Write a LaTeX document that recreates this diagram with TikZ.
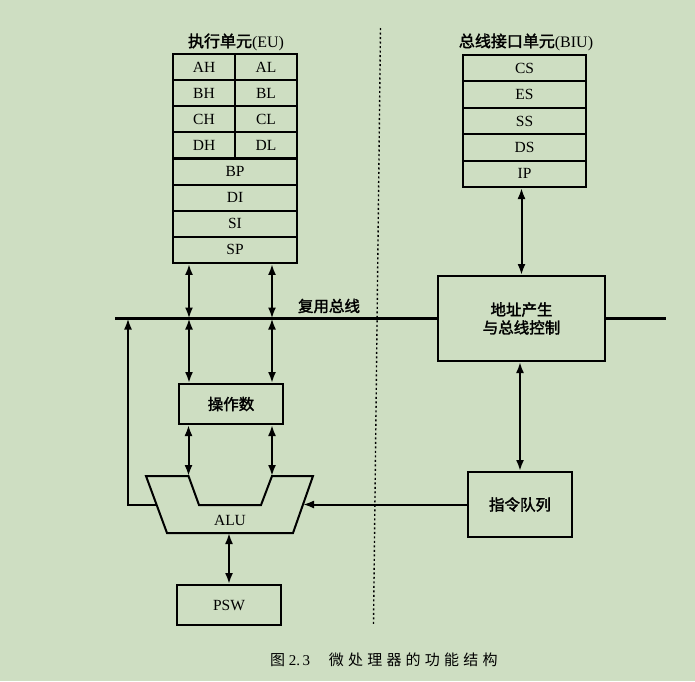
\documentclass[tikz,border=0pt]{standalone}
\usepackage{fontspec}
\setmainfont{Liberation Serif}
\newfontfamily\cjk[AutoFakeBold=2]{Noto Sans CJK SC}
\newfontfamily\cjkcap[LetterSpace=28]{Noto Sans CJK SC}
\usetikzlibrary{arrows.meta}
\definecolor{bg}{RGB}{206,222,194}
\begin{document}
\begin{tikzpicture}[x=1pt,y=-1pt,
  box/.style={draw, line width=2pt, inner sep=0pt},
  reg/.style={box, minimum height=26.1pt, font=\fontsize{15.5}{17}\selectfont},
  blk/.style={box, font=\fontsize{15.5}{18}\selectfont\cjk\bfseries, align=center},
  ttl/.style={font=\fontsize{16}{18}\selectfont, inner sep=0pt},
  dbl/.style={{Latex[length=11pt,width=8pt]}-{Latex[length=11pt,width=8pt]}, line width=2pt},
  one/.style={-{Latex[length=11pt,width=8pt]}, line width=2pt},
  bus/.style={line width=2.3pt},
  sep/.style={line width=1.4pt, dash pattern=on 2pt off 2.5pt}
]
\path[fill=bg] (0,0) rectangle (695,681);

% separator
\coordinate (sepT) at (380.5,28);
\coordinate (sepB) at (373.5,624);
\draw[sep] (sepT) -- (sepB);

% titles
\node[ttl] (eut) at (236,42) {{\cjk\bfseries 执行单元}(EU)};
\node[ttl] (biut) at (526,42) {{\cjk\bfseries 总线接口单元}(BIU)};

% EU registers
\node[reg, minimum width=62pt] (ah) at (204,67.1) {AH};
\node[reg, minimum width=62pt] (al) at (266,67.1) {AL};
\node[reg, minimum width=62pt] (bh) at (204,93.2) {BH};
\node[reg, minimum width=62pt] (bl) at (266,93.2) {BL};
\node[reg, minimum width=62pt] (ch) at (204,119.3) {CH};
\node[reg, minimum width=62pt] (cl) at (266,119.3) {CL};
\node[reg, minimum width=62pt] (dh) at (204,145.4) {DH};
\node[reg, minimum width=62pt] (dl) at (266,145.4) {DL};
\node[reg, minimum width=124pt] (bp) at (235,171.6) {BP};
\node[reg, minimum width=124pt] (di) at (235,197.7) {DI};
\node[reg, minimum width=124pt] (si) at (235,223.8) {SI};
\node[reg, minimum width=124pt] (sp) at (235,249.9) {SP};

% BIU registers
\node[reg, minimum width=123pt, minimum height=26.4pt] (cs) at (524.5,68.2) {CS};
\node[reg, minimum width=123pt, minimum height=26.4pt] (es) at (524.5,94.6) {ES};
\node[reg, minimum width=123pt, minimum height=26.4pt] (ss) at (524.5,121) {SS};
\node[reg, minimum width=123pt, minimum height=26.4pt] (ds) at (524.5,147.4) {DS};
\node[reg, minimum width=123pt, minimum height=26.4pt] (ip) at (524.5,173.8) {IP};

% blocks
\node[blk, minimum width=167pt, minimum height=85pt] (addr) at (521.5,318.5) {地址产生\\与总线控制};
\node[blk, minimum width=104pt, minimum height=65pt] (queue) at (520,504.5) {指令队列};
\node[blk, minimum width=104pt, minimum height=40pt] (ops) at (231,404) {操作数};
\node[reg, minimum width=104pt, minimum height=40pt] (psw) at (229,605) {PSW};

% ALU
\coordinate (aluA) at (146,476);
\coordinate (aluT1) at (188.5,476);
\coordinate (aluC) at (199,505);
\coordinate (aluD) at (261,505);
\coordinate (aluT2) at (272,476);
\coordinate (aluF) at (313,476);
\coordinate (aluG) at (293,533);
\coordinate (aluH) at (167,533);
\draw[line width=2pt, line join=miter] (aluA) -- (aluT1) -- (aluC) -- (aluD) -- (aluT2) -- (aluF) -- (aluG) -- (aluH) -- cycle;
\node[font=\fontsize{15.5}{17}\selectfont, inner sep=0pt] (alu) at (230,520) {ALU};
\coordinate (aluL) at (156.5,505);
\coordinate (aluR) at (303,504.5);
\coordinate (aluB) at (229,533);

% bus
\coordinate (busL) at (115,318.5);
\coordinate (bus1) at (189,318.5);
\coordinate (bus2) at (272,318.5);
\coordinate (busF) at (128,318.5);
\coordinate (addrR) at (666,318.5);
\draw[bus] (busL) -- (addr.west);
\draw[bus] (addr.east) -- (addrR);
\node[font=\fontsize{15.5}{18}\selectfont\cjk\bfseries, inner sep=0pt] (buslbl) at (329,306) {复用总线};

% connectors
\draw[dbl] (sp.south -| bus1) -- (bus1);
\draw[dbl] (sp.south -| bus2) -- (bus2);
\draw[dbl] (bus1) -- (bus1 |- ops.north);
\draw[dbl] (bus2) -- (bus2 |- ops.north);
\draw[dbl] (ops.south -| aluT1) -- (aluT1);
\draw[dbl] (ops.south -| aluT2) -- (aluT2);
\draw[dbl] (aluB) -- (psw.north);
\draw[one] (aluL) -| (busF);
\draw[one] (queue.west) -- (aluR);
\draw[dbl] (ip.south -| addr.north) -- (addr.north);
\draw[dbl] (addr.south -| queue.north) -- (queue.north);

% caption
\node[anchor=west, inner sep=0pt, font=\fontsize{15}{17}\selectfont] (cap) at (270,660) {{\cjkcap 图}\ 2.\,3\quad\ {\cjkcap 微处理器的功能结构}};
\end{tikzpicture}
\end{document}
